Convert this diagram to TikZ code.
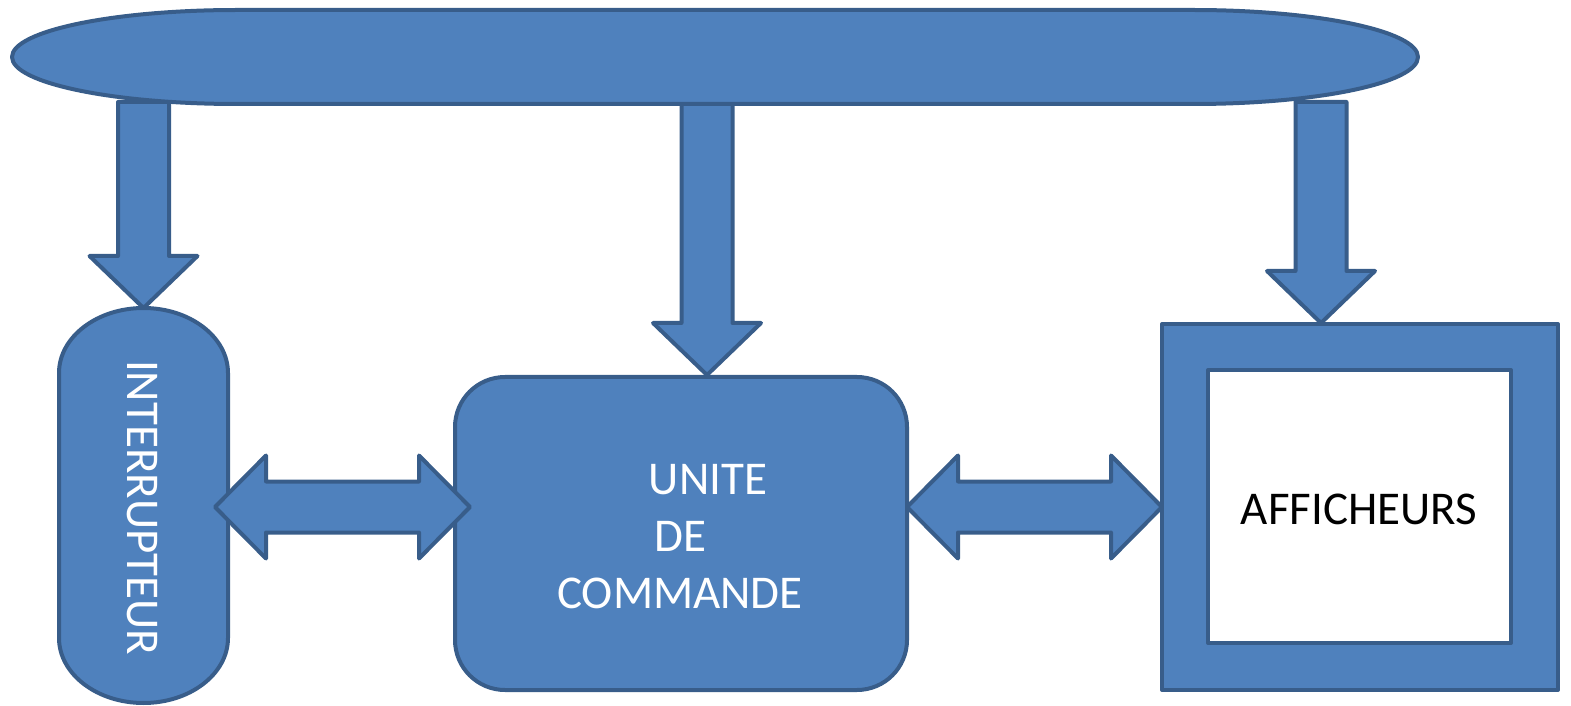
\documentclass[tikz,border=0pt]{standalone}
\usepackage{fontspec}
\setmainfont{Carlito}
\usetikzlibrary{calc}
\definecolor{blkfill}{HTML}{4F81BD}
\definecolor{blkline}{HTML}{385D8A}
\tikzset{
  blk/.style={fill=blkfill, draw=blkline, line width=4pt, line join=round},
  ghost/.style={inner sep=0pt, outer sep=0pt},
  lbl/.style={font=\fontsize{47}{57}\selectfont, inner sep=0pt},
}
\newcommand\BlkDown[2]{%
  \draw[blk] ($(#2|-#1)+(-25.5,0)$) -- ($(#2|-#1)+(25.5,0)$) -- ($(#2)+(25.5,52)$)
    -- ($(#2)+(54,52)$) -- (#2) -- ($(#2)+(-54,52)$) -- ($(#2)+(-25.5,52)$) -- cycle;}
\newcommand\BlkLR[2]{%
  \draw[blk] (#1) -- ($(#1)+(51,51.5)$) -- ($(#1)+(51,25.5)$) -- ($(#2)+(-51,25.5)$)
    -- ($(#2)+(-51,51.5)$) -- (#2) -- ($(#2)+(-51,-51.5)$) -- ($(#2)+(-51,-25.5)$)
    -- ($(#1)+(51,-25.5)$) -- ($(#1)+(51,-51.5)$) -- cycle;}
\begin{document}
\begin{tikzpicture}[x=1pt,y=1pt]
\useasboundingbox (0,0) rectangle (1571,705);
% invisible named frames
\node[ghost, minimum width=1406pt, minimum height=94pt] (bus) at (715,648) {};
\node[ghost, minimum width=169pt, minimum height=395pt] (intr) at (143.5,199.5) {};
\node[ghost, minimum width=396pt, minimum height=366pt] (aff) at (1360,198) {};
% tips and shaft tops
\coordinate (busB) at ($(bus.south)+(0,2)$);
\coordinate (tipL) at (intr.north);
\coordinate (tipM) at (707,330);
\coordinate (tipR) at ($(aff.north)+(-39,1)$);
% down arrows
\BlkDown{busB}{tipL}
\BlkDown{busB}{tipM}
\BlkDown{busB}{tipR}
% bus
\draw[blk] (237,695) -- (1193,695) arc[start angle=90,end angle=-90,x radius=225,y radius=47]
  -- (237,601) arc[start angle=270,end angle=90,x radius=225,y radius=47] -- cycle;
% interrupteur
\draw[blk] (59,332) arc[start angle=180,end angle=0,x radius=84.5,y radius=65]
  -- (228,67) arc[start angle=0,end angle=-180,x radius=84.5,y radius=65] -- cycle;
\node[lbl, text=white, rotate=-90] (intrtxt) at (142,197.5) {INTERRUPTEUR};
% unite de commande
\node[blk, rounded corners=50pt, minimum width=452pt, minimum height=313pt, outer sep=0pt] (uc) at (681,171.5) {};
\node[lbl, text=white, anchor=base] (ucA) at (708,211) {UNITE};
\node[lbl, text=white, anchor=base] (ucB) at (680.5,154) {DE};
\node[lbl, text=white, anchor=base] (ucC) at (680,97) {COMMANDE};
% afficheurs
\node[blk, minimum width=396pt, minimum height=366pt, outer sep=0pt] (affbox) at (aff) {};
\node[blk, fill=white, minimum width=303pt, minimum height=273pt, outer sep=0pt] (affin) at (1359.5,198.5) {};
\node[lbl, text=black, anchor=base] (afftxt) at (1359,181) {AFFICHEURS};
% double arrows
\coordinate (dL1) at (215,198);
\coordinate (dL2) at (470,198);
\coordinate (dR1) at (907,198);
\coordinate (dR2) at (1162,198);
\BlkLR{dL1}{dL2}
\BlkLR{dR1}{dR2}
\end{tikzpicture}
\end{document}
